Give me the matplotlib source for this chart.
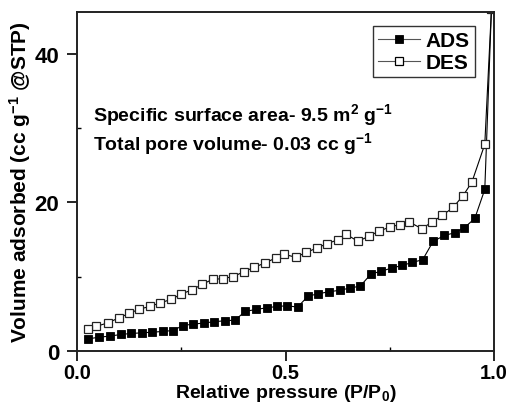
import matplotlib
matplotlib.use("Agg")
import matplotlib.pyplot as plt
from matplotlib.ticker import MultipleLocator

plt.rcParams["font.family"] = ["Liberation Sans", "DejaVu Sans"]
plt.rcParams["font.weight"] = "bold"
plt.rcParams["axes.labelweight"] = "bold"
plt.rcParams["mathtext.fontset"] = "custom"
plt.rcParams["mathtext.rm"] = "Liberation Sans:bold"
plt.rcParams["mathtext.bf"] = "Liberation Sans:bold"
plt.rcParams["mathtext.default"] = "rm"

# adsorption branch
p_ads = [0.027, 0.053, 0.079, 0.105, 0.130, 0.155, 0.180, 0.205, 0.230, 0.254,
         0.279, 0.304, 0.329, 0.355, 0.379, 0.403, 0.429, 0.455, 0.480, 0.504,
         0.529, 0.554, 0.579, 0.604, 0.631, 0.655, 0.679, 0.705, 0.730, 0.755,
         0.780, 0.804, 0.829, 0.854, 0.881, 0.906, 0.929, 0.954, 0.978, 0.994]
v_ads = [1.6, 1.84, 1.97, 2.2, 2.33, 2.42, 2.5, 2.6, 2.73, 3.4,
         3.6, 3.73, 3.92, 4.04, 4.13, 5.3, 5.56, 5.79, 5.97, 6.06,
         5.88, 7.36, 7.68, 7.95, 8.15, 8.46, 8.7, 10.33, 10.73, 11.14,
         11.49, 11.9, 12.26, 14.72, 15.53, 15.89, 16.57, 17.82, 21.72, 46.0]

# desorption branch
p_des = [0.994, 0.978, 0.947, 0.926, 0.902, 0.876, 0.851, 0.827, 0.796, 0.775,
         0.750, 0.725, 0.700, 0.674, 0.645, 0.625, 0.600, 0.576, 0.550, 0.524,
         0.496, 0.476, 0.450, 0.424, 0.400, 0.375, 0.349, 0.325, 0.300, 0.276,
         0.250, 0.225, 0.200, 0.175, 0.149, 0.125, 0.100, 0.075, 0.045, 0.027]
v_des = [46.0, 27.8, 22.7, 20.9, 19.3, 18.22, 17.33, 16.43, 17.37, 17.0,
         16.66, 16.12, 15.44, 14.72, 15.71, 14.95, 14.41, 13.87, 13.24, 12.6,
         13.0, 12.48, 11.81, 11.22, 10.64, 10.0, 9.7, 9.63, 8.93, 8.22,
         7.63, 6.91, 6.46, 5.97, 5.61, 5.03, 4.44, 3.77, 3.28, 2.96]

fig = plt.figure(figsize=(5.14, 4.10), dpi=100)
ax = fig.add_axes([0.150, 0.142, 0.811, 0.826])

ax.plot(p_ads, v_ads, color="black", lw=0.8, marker="s", ms=5.6,
        mfc="black", mec="black", mew=0.6, label="ADS")
ax.plot(p_des, v_des, color="black", lw=0.8, marker="s", ms=5.6,
        mfc="white", mec="#222222", mew=0.9, label="DES")

ax.set_xlim(0, 1.0)
ax.set_ylim(0, 45.6)
ax.xaxis.set_major_locator(MultipleLocator(0.5))
ax.xaxis.set_minor_locator(MultipleLocator(0.25))
ax.yaxis.set_major_locator(MultipleLocator(20))
ax.yaxis.set_minor_locator(MultipleLocator(10))
ax.xaxis.set_major_formatter(plt.FuncFormatter(lambda v, _: f"{v:.1f}"))
ax.tick_params(which="major", direction="out", length=7, width=1.2)
ax.tick_params(axis="x", which="major", labelsize=14.5, pad=2)
ax.tick_params(axis="y", which="major", labelsize=16, pad=6)
ax.tick_params(which="minor", direction="in", length=3, width=1.0)
for s in ax.spines.values():
    s.set_linewidth(1.4)
    s.set_color("#222222")

ax.set_xlabel("Relative pressure (P/P$_0$)", fontsize=14, labelpad=0)
ax.set_ylabel("Volume adsorbed (cc g$^{-1}$ @STP)", fontsize=15, labelpad=1)

ax.text(0.038, 0.681, "Specific surface area- 9.5 m$^2$ g$^{-1}$",
        transform=ax.transAxes, fontsize=14, va="baseline")
ax.text(0.038, 0.596, "Total pore volume- 0.03 cc g$^{-1}$",
        transform=ax.transAxes, fontsize=14, va="baseline")

leg = ax.legend(loc="upper right", bbox_to_anchor=(0.955, 0.96), fontsize=15,
                frameon=True, fancybox=False, edgecolor="black",
                handlelength=2.0, handletextpad=0.3, borderpad=0.25,
                labelspacing=0.15, borderaxespad=0)
leg.get_frame().set_linewidth(1.0)
for h in leg.get_lines():
    h.set_color("#555555")
    h.set_markeredgecolor("black")

fig.savefig("out.png", dpi=100)
